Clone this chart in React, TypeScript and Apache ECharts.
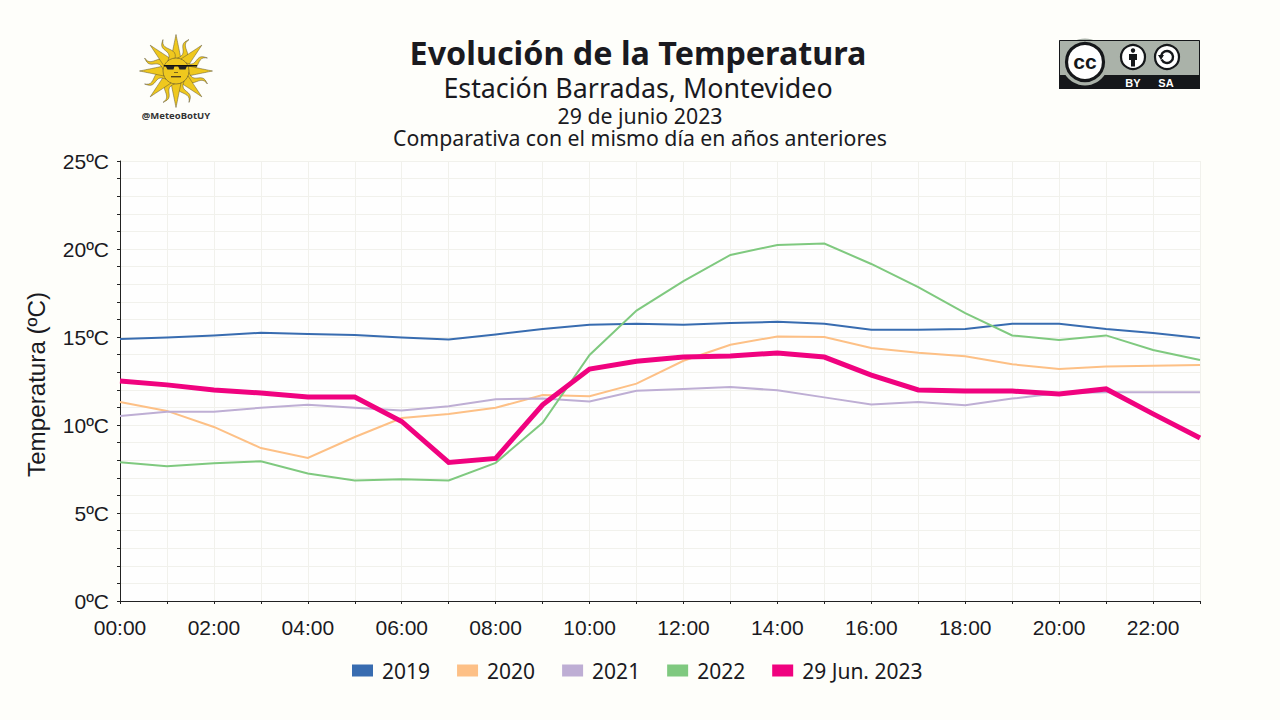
import React, { useEffect, useRef } from "react";
import * as echarts from "echarts";

const hours = ["00:00","01:00","02:00","03:00","04:00","05:00","06:00","07:00","08:00","09:00","10:00","11:00","12:00","13:00","14:00","15:00","16:00","17:00","18:00","19:00","20:00","21:00","22:00","23:00"];
const v2019 = [14.89,14.97,15.08,15.24,15.17,15.11,14.97,14.86,15.14,15.46,15.69,15.75,15.69,15.8,15.86,15.75,15.41,15.41,15.46,15.75,15.75,15.46,15.23,14.94];
const v2020 = [11.31,10.8,9.89,8.69,8.13,9.32,10.4,10.63,10.98,11.7,11.63,12.35,13.65,14.56,15.03,15.0,14.38,14.1,13.9,13.45,13.18,13.33,13.36,13.41];
const v2021 = [10.51,10.75,10.75,10.98,11.15,10.98,10.83,11.06,11.46,11.5,11.34,11.94,12.05,12.16,11.97,11.57,11.17,11.31,11.12,11.5,11.82,11.86,11.86,11.86];
const v2022 = [7.89,7.66,7.83,7.94,7.25,6.85,6.92,6.85,7.85,10.13,13.98,16.5,18.18,19.66,20.23,20.31,19.15,17.84,16.36,15.09,14.83,15.09,14.26,13.69];
const v2023 = [12.5,12.28,11.99,11.82,11.59,11.59,10.2,7.87,8.1,11.15,13.18,13.62,13.86,13.92,14.09,13.86,12.84,11.99,11.93,11.93,11.76,12.05,10.63,9.26];

const seriesNames = ["2019", "2020", "2021", "2022", "29 Jun. 2023"];
const seriesColors = ["#386cb0", "#fdc086", "#beaed4", "#7fc97f", "#f0027f"];
const seriesValues = [v2019, v2020, v2021, v2022, v2023];
const seriesWidths = [2, 2, 2, 2, 5];

const titleLines = [
  { text: "Evolución de la Temperatura", x: 638, top: 36, size: 32.3, weight: 700 },
  { text: "Estación Barradas, Montevideo", x: 638, top: 74, size: 26.8, weight: 400 },
  { text: "29 de junio 2023", x: 640, top: 105, size: 21.3, weight: 400 },
  { text: "Comparativa con el mismo día en años anteriores", x: 640, top: 127, size: 21.25, weight: 400 },
];

const INK = "#1a1a1f";
const SANS = "Noto Sans";
const AXIS = "Liberation Sans";

function sunLogo(): any[] {
  const cx = 176, cy = 71;
  const stroke = "#5a5030";
  const fill = "#efc81e";
  const out: any[] = [];
  for (let i = 0; i < 16; i++) {
    const a = (i * Math.PI) / 8 - Math.PI / 2;
    const wavy = i % 2 === 1;
    const inner = 12, outer = wavy ? 34 : 36.5, half = wavy ? 4 : 5;
    const pts: number[][] = [];
    const back: number[][] = [];
    const n = 12;
    for (let k = 0; k <= n; k++) {
      const t = k / n;
      const r = inner + (outer - inner) * t;
      const off = wavy ? Math.sin(t * Math.PI * 2) * 2.6 : 0;
      const w = half * (1 - t);
      const px = Math.cos(a), py = Math.sin(a);
      const nx = -py, ny = px;
      pts.push([cx + px * r + nx * (off + w), cy + py * r + ny * (off + w)]);
      back.unshift([cx + px * r + nx * (off - w), cy + py * r + ny * (off - w)]);
    }
    out.push({ type: "polygon", silent: true, shape: { points: pts.concat(back) }, style: { fill, stroke, lineWidth: 0.5 } });
  }
  out.push({ type: "circle", silent: true, shape: { cx, cy, r: 13 }, style: { fill, stroke, lineWidth: 0.6 } });
  // sunglasses
  out.push({ type: "rect", silent: true, shape: { x: 164, y: 65, width: 33, height: 1.4 }, style: { fill: "#111" } });
  out.push({ type: "polygon", silent: true, shape: { points: [[165.5, 66], [174.5, 66], [173.5, 69.5], [167.5, 69.5]] }, style: { fill: "#222" } });
  out.push({ type: "polygon", silent: true, shape: { points: [[178, 66], [187, 66], [185.5, 69.5], [179.5, 69.5]] }, style: { fill: "#222" } });
  out.push({ type: "rect", silent: true, shape: { x: 174, y: 72, width: 4, height: 1 }, style: { fill: "#7a6418" } });
  out.push({ type: "rect", silent: true, shape: { x: 171, y: 76, width: 10, height: 1.4 }, style: { fill: "#54431a" } });
  out.push({ type: "text", silent: true, style: { text: "@MeteoBotUY", x: 176, y: 115, fill: "#333", font: `700 9.5px "${SANS}"`, textAlign: "center", textVerticalAlign: "middle" } });
  return out;
}

function ccBadge(): any[] {
  const dark = "#15171a", grey = "#aab2a9";
  return [
    { type: "rect", silent: true, shape: { x: 1059, y: 40, width: 141, height: 49 }, style: { fill: grey } },
    { type: "rect", silent: true, shape: { x: 1059, y: 75, width: 141, height: 14 }, style: { fill: dark } },
    { type: "circle", silent: true, shape: { cx: 1085, cy: 62, r: 23.5 }, style: { fill: grey } },
    { type: "rect", silent: true, shape: { x: 1059.5, y: 40.5, width: 140, height: 48 }, style: { fill: "transparent", stroke: dark, lineWidth: 1 } },
    { type: "circle", silent: true, shape: { cx: 1085, cy: 62, r: 18.5 }, style: { fill: "#fff", stroke: dark, lineWidth: 3.2 } },
    { type: "text", silent: true, style: { text: "cc", x: 1085, y: 61, fill: dark, font: `700 21px "${AXIS}"`, textAlign: "center", textVerticalAlign: "middle" } },
    { type: "circle", silent: true, shape: { cx: 1133, cy: 57, r: 12 }, style: { fill: "#fff", stroke: dark, lineWidth: 2.2 } },
    { type: "circle", silent: true, shape: { cx: 1133, cy: 50.5, r: 2.2 }, style: { fill: dark } },
    { type: "polygon", silent: true, shape: { points: [[1129, 54], [1137, 54], [1137, 60], [1135, 60], [1135, 66.5], [1131, 66.5], [1131, 60], [1129, 60]] }, style: { fill: dark } },
    { type: "circle", silent: true, shape: { cx: 1167, cy: 57, r: 12 }, style: { fill: "#fff", stroke: dark, lineWidth: 2.2 } },
    { type: "arc", silent: true, shape: { cx: 1167, cy: 57, r: 6, startAngle: -2.9, endAngle: 2.7, clockwise: true }, style: { stroke: dark, lineWidth: 2.4, fill: "none" } },
    { type: "polygon", silent: true, shape: { points: [[1158, 55], [1164, 55], [1161, 60]] }, style: { fill: dark } },
    { type: "text", silent: true, style: { text: "BY", x: 1133, y: 82.5, fill: "#fff", font: `700 11px "${AXIS}"`, textAlign: "center", textVerticalAlign: "middle" } },
    { type: "text", silent: true, style: { text: "SA", x: 1166, y: 82.5, fill: "#fff", font: `700 11px "${AXIS}"`, textAlign: "center", textVerticalAlign: "middle" } },
  ];
}

export default function App() {
  const ref = useRef<HTMLDivElement>(null);
  useEffect(() => {
    const chart = echarts.init(ref.current!, undefined, { renderer: "svg" });
    chart.setOption({
      animation: false,
      backgroundColor: "#fefefa",
      title: titleLines.map((l) => ({
        text: l.text,
        left: l.x,
        top: l.top,
        textAlign: "center",
        padding: 0,
        textStyle: { fontFamily: SANS, fontSize: l.size, lineHeight: Math.round(l.size), fontWeight: l.weight, color: INK },
      })),
      grid: { left: 120, right: 80, top: 161, bottom: 119, show: true, backgroundColor: "#fefefe", borderWidth: 0 },
      legend: {
        left: 352,
        top: 660,
        padding: 0,
        icon: "rect",
        itemWidth: 21,
        itemHeight: 12,
        itemGap: 27,
        data: seriesNames,
        itemStyle: { borderWidth: 0 },
        lineStyle: { width: 0 },
        textStyle: { fontFamily: SANS, fontSize: 21, color: INK, padding: [0, 0, 0, 4] },
      },
      xAxis: {
        type: "category",
        data: hours,
        boundaryGap: false,
        axisLine: { lineStyle: { color: "#222", width: 1 } },
        axisTick: { interval: 0, length: 3, lineStyle: { color: "#222" } },
        axisLabel: { interval: (i: number) => i % 2 === 0, fontFamily: AXIS, fontSize: 21, color: INK, margin: 16 },
        splitLine: { show: true, interval: 0, lineStyle: { color: "#f1f1ec", width: 1 } },
      },
      yAxis: {
        type: "value",
        min: 0,
        max: 25,
        interval: 5,
        name: "Temperatura (ºC)",
        nameLocation: "middle",
        nameGap: 72,
        nameTextStyle: { fontFamily: AXIS, fontSize: 24.2, color: INK, padding: [0, 7, 0, 0] },
        axisLine: { show: true, lineStyle: { color: "#222", width: 1 } },
        axisTick: { show: true, length: 3, lineStyle: { color: "#222" } },
        minorTick: { show: true, splitNumber: 5, length: 3, lineStyle: { color: "#222" } },
        axisLabel: { formatter: "{value}ºC", fontFamily: AXIS, fontSize: 21, color: INK, margin: 11 },
        splitLine: { show: true, lineStyle: { color: "#f1f1ec", width: 1 } },
        minorSplitLine: { show: true, lineStyle: { color: "#f1f1ec", width: 1 } },
      },
      series: seriesNames.map((name, i) => ({
        name,
        type: "line",
        data: seriesValues[i],
        showSymbol: false,
        symbol: "none",
        smooth: false,
        z: 2 + i,
        itemStyle: { color: seriesColors[i] },
        lineStyle: { color: seriesColors[i], width: seriesWidths[i], join: "miter" },
      })),
      graphic: { elements: [...sunLogo(), ...ccBadge()] },
    });
    return () => chart.dispose();
  }, []);
  return <div ref={ref} style={{ position: "fixed", left: 0, top: 0, width: 1280, height: 720 }} />;
}
